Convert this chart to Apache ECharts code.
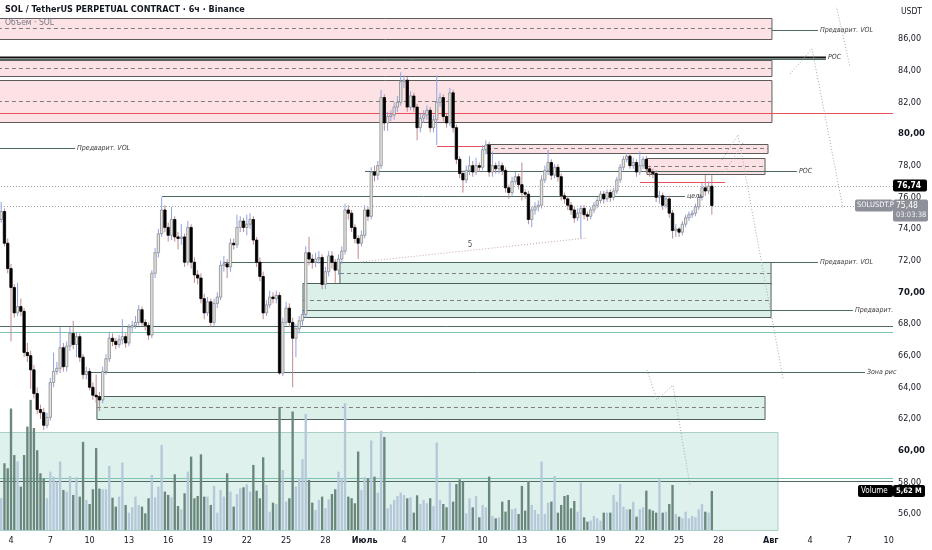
<!DOCTYPE html>
<html><head><meta charset="utf-8">
<script src="https://cdn.jsdelivr.net/npm/echarts@6/dist/echarts.min.js"></script>
<style>html,body{margin:0;padding:0;background:#fff}#c{width:932px;height:550px}</style>
</head><body><div id="c"></div>
<script>
// ---- time: days since 4 June; candles are 6h ----
const firstCandleDay = -0.75;
const candleStepDays = 0.25;
const xTickDays = [0,3,6,9,12,15,18,21,24,27,30,33,36,39,42,45,48,51,54,58,61,64,67];
const xTickLabels = ['4','7','10','13','16','19','22','25','28','Июль','4','7','10','13','16','19','22','25','28','Авг','4','7','10'];
const priceTicks = [56,58,60,62,64,66,68,70,72,74,76,78,80,82,84,86];

// [open, close, low, high]
const candles = [
[74.6,75.1,74.4,75.7],[75.1,73.1,72.9,75.3],[73.1,71.5,71.2,73.4],[71.5,70.3,66.9,71.8],[70.3,68.7,68.4,70.5],
[68.7,69.1,68.5,70.6],[69.1,68.8,68.5,69.6],[68.8,66.2,65.9,69.0],[66.2,66.0,65.6,66.8],[66.0,65.1,63.9,66.3],
[65.1,63.6,63.3,65.4],[63.6,62.6,62.3,64.0],[62.6,62.4,62.0,62.9],[62.4,61.6,61.3,62.7],[61.6,62.1,61.4,62.4],
[62.1,64.3,61.9,64.6],[64.3,65.0,64.0,66.2],[65.0,65.2,64.8,65.6],[65.2,66.5,64.9,67.8],[66.5,65.3,65.0,66.8],
[65.3,66.6,65.0,66.9],[66.6,67.4,66.3,67.8],[67.4,66.7,66.4,68.2],[66.7,67.2,65.9,67.5],[67.2,65.9,65.6,67.4],
[65.9,64.8,64.5,66.1],[64.8,65.0,64.5,65.3],[65.0,64.0,63.8,65.2],[64.0,63.5,63.2,64.3],[63.5,63.4,63.0,64.8],
[63.4,63.2,62.5,63.7],[63.2,65.0,63.0,65.3],[65.0,65.8,64.8,66.1],[65.8,67.1,65.6,67.5],[67.1,66.9,66.6,67.4],
[66.9,66.7,66.4,67.1],[66.7,67.0,66.5,67.3],[67.0,67.2,66.7,68.3],[67.2,66.8,66.5,67.4],[66.8,67.8,66.6,68.0],
[67.8,67.9,67.5,68.2],[67.9,68.1,67.7,68.5],[68.1,68.9,67.9,69.2],[68.9,68.1,67.9,69.1],[68.1,67.9,67.6,68.3],
[67.9,67.3,67.0,68.1],[67.3,71.2,67.1,71.4],[71.2,72.5,70.9,72.8],[72.5,73.7,72.2,74.0],[73.7,75.2,73.5,76.0],
[75.2,74.1,73.8,75.5],[74.1,73.6,73.2,74.4],[73.6,74.6,73.3,75.4],[74.6,73.5,73.2,74.8],[73.5,73.4,72.7,73.8],
[73.4,73.5,73.0,74.3],[73.5,71.9,71.6,73.7],[71.9,74.1,71.7,74.5],[74.1,71.9,71.5,74.3],[71.9,71.1,70.6,72.2],
[71.1,70.9,70.5,71.4],[70.9,69.6,69.3,71.2],[69.6,68.7,68.3,69.9],[68.7,69.4,68.5,69.7],[69.4,68.1,67.8,69.6],
[68.1,69.3,67.9,69.6],[69.3,69.7,69.0,70.0],[69.7,71.7,69.5,72.0],[71.7,71.8,71.3,72.3],[71.8,71.6,70.9,72.1],
[71.6,73.1,71.3,73.4],[73.1,73.0,72.7,73.4],[73.0,74.1,72.8,74.9],[74.1,74.5,73.8,74.8],[74.5,74.1,73.8,74.7],
[74.1,74.3,73.6,74.9],[74.3,74.6,74.0,75.0],[74.6,73.3,73.0,74.8],[73.3,71.9,71.6,73.5],[71.9,71.0,70.7,72.2],
[71.0,68.7,68.3,71.3],[68.7,69.2,68.5,69.5],[69.2,69.7,69.0,70.1],[69.7,69.6,69.3,70.0],[69.6,69.8,69.3,70.1],
[69.8,64.9,64.8,70.0],[64.9,68.1,64.7,68.4],[68.1,69.0,67.9,69.4],[69.0,68.1,67.8,69.3],[68.1,67.1,64.0,68.4],
[67.1,67.7,65.9,68.0],[67.7,68.2,67.4,68.5],[68.2,68.6,67.9,68.9],[68.6,72.5,68.4,72.9],[72.5,72.1,71.7,73.5],
[72.1,71.9,71.5,72.4],[71.9,72.1,71.6,72.5],[72.1,72.2,71.8,72.6],[72.2,70.5,70.2,72.4],[70.5,71.3,70.2,71.6],
[71.3,72.3,71.0,72.6],[72.3,71.9,71.5,72.6],[71.9,71.4,70.6,72.1],[71.4,72.1,71.1,72.4],[72.1,72.6,71.8,72.9],
[72.6,75.2,72.4,75.6],[75.2,75.0,74.6,75.5],[75.0,74.1,73.8,75.2],[74.1,73.4,73.1,74.3],[73.4,73.1,72.1,73.6],
[73.1,73.6,72.9,73.9],[73.6,75.2,73.4,75.5],[75.2,74.8,74.5,75.4],[74.8,77.6,74.6,77.9],[77.6,77.4,77.0,78.0],
[77.4,78.0,77.1,78.3],[78.0,82.3,77.8,82.8],[82.3,80.7,80.2,82.5],[80.7,81.1,80.2,81.4],[81.1,81.2,80.8,81.5],
[81.2,81.7,80.9,82.0],[81.7,82.0,81.4,82.4],[82.0,83.3,81.8,83.9],[83.3,83.4,82.9,83.7],[83.4,81.7,81.4,83.6],
[81.7,82.4,81.5,82.7],[82.4,81.7,81.4,82.6],[81.7,80.4,79.6,81.9],[80.4,81.0,80.1,81.3],[81.0,81.2,80.7,81.5],
[81.2,81.5,80.9,81.8],[81.5,80.4,80.1,81.7],[80.4,80.9,80.1,81.2],[80.9,82.0,79.3,83.7],[82.0,82.3,81.7,82.6],
[82.3,81.1,80.8,82.5],[81.1,80.7,80.4,81.3],[80.7,82.6,80.5,82.9],[82.6,80.4,80.1,82.8],[80.4,78.4,78.1,80.6],
[78.4,77.5,77.2,78.6],[77.5,77.1,76.3,77.7],[77.1,77.7,76.9,78.0],[77.7,78.0,77.4,78.6],[78.0,77.6,77.3,78.3],
[77.6,78.0,77.4,78.5],[78.0,77.9,77.6,78.2],[77.9,79.0,77.7,79.3],[79.0,79.3,78.7,79.6],[79.3,77.6,77.3,79.5],
[77.6,78.0,77.3,78.9],[78.0,77.8,77.5,78.2],[77.8,78.0,77.5,78.3],[78.0,77.7,77.4,78.2],[77.7,76.6,76.3,77.9],
[76.6,76.3,75.9,76.8],[76.3,77.0,76.1,77.3],[77.0,77.3,76.8,77.6],[77.3,76.8,76.5,77.5],[76.8,76.3,75.8,78.2],
[76.3,76.2,75.9,76.5],[76.2,74.6,74.3,76.4],[74.6,75.2,74.1,75.4],[75.2,75.4,74.9,75.7],[75.4,75.5,75.1,75.8],
[75.5,77.1,75.3,77.4],[77.1,77.7,76.9,78.0],[77.7,78.2,77.4,79.0],[78.2,77.4,77.1,78.4],[77.4,77.9,77.2,78.1],
[77.9,77.3,77.0,78.1],[77.3,76.1,75.8,77.5],[76.1,75.9,75.6,76.3],[75.9,75.5,75.2,76.1],[75.5,75.2,74.9,75.7],
[75.2,74.7,74.4,75.4],[74.7,75.0,74.5,75.3],[75.0,75.3,73.4,75.5],[75.3,74.9,74.6,75.5],[74.9,74.8,74.5,75.1],
[74.8,75.2,74.6,75.4],[75.2,75.5,75.0,75.7],[75.5,75.8,75.3,76.0],[75.8,76.2,75.6,76.4],[76.2,75.9,75.6,76.4],
[75.9,76.3,75.7,76.5],[76.3,76.0,75.7,76.5],[76.0,76.4,75.8,76.6],[76.4,77.1,76.2,77.3],[77.1,77.9,76.9,78.1],
[77.9,78.4,77.7,78.6],[78.4,78.6,78.2,78.8],[78.6,78.0,77.8,78.8],[78.0,78.2,77.8,78.5],[78.2,77.6,77.3,78.4],
[77.6,78.0,77.4,78.9],[78.0,78.4,77.8,78.6],[78.4,77.8,77.5,78.6],[77.8,77.6,77.3,78.0],[77.6,77.5,77.2,77.8],
[77.5,76.0,75.7,77.7],[76.0,76.1,75.6,76.4],[76.1,75.5,75.2,76.3],[75.5,75.9,75.3,76.1],[75.9,75.0,74.7,76.1],
[75.0,73.9,73.4,75.2],[73.9,74.0,73.5,74.3],[74.0,73.8,73.5,74.1],[73.8,74.3,73.6,74.5],[74.3,74.7,74.1,74.9],
[74.7,74.9,74.5,75.1],[74.9,75.0,74.7,75.2],[75.0,75.4,74.8,75.6],[75.4,76.0,75.2,76.2],[76.0,76.6,75.8,76.9],
[76.6,76.4,76.1,77.4],[76.4,76.7,76.2,77.0],[76.7,75.48,74.9,77.4]
];

// volume, millions SOL
const volumes = [
4.57,9.62,8.89,17.5,10.8,9.86,6.25,10.8,14.9,18.75,14.7,11.5,8.17,7.45,
4.57,8.41,7.69,6.97,9.86,5.77,5.53,7.79,5.05,7.6,4.81,12.7,4.33,3.75,
5.87,11.8,5.96,5.87,5.87,9.23,4.66,3.37,4.81,9.71,3.61,2.5,3.27,4.81,
3.61,3.37,2.4,4.57,7.93,4.71,6.25,12.26,5.53,5.05,4.71,8.03,3.46,2.98,
5.29,8.41,10.58,4.57,4.9,10.9,4.81,4.81,3.61,6.35,2.5,5.77,4.81,8.17,
5.53,3.37,5.19,6.01,6.15,6.59,5.53,9.38,5.67,4.57,10.48,6.49,2.64,3.94,
3.75,17.7,8.65,4.09,4.57,17.07,6.25,7.45,10.19,16.73,7.21,3.94,2.88,4.33,
4.81,3.13,4.42,5.19,5.87,8.41,7.45,18.27,4.81,4.57,3.85,11.3,5.77,7.6,
7.45,12.9,7.69,5.38,14.3,13.4,3.13,3.7,4.33,4.9,5.38,5.05,4.57,4.71,
2.5,5.0,3.75,4.33,3.85,4.57,3.46,12.6,4.33,3.75,3.27,6.83,4.09,6.63,
7.31,6.97,2.4,4.57,3.27,4.9,1.83,3.61,3.27,7.69,2.02,1.68,1.83,4.09,
2.64,4.33,2.98,3.13,2.31,6.35,2.79,7.07,3.61,2.88,2.31,9.86,2.31,3.94,
4.09,7.79,2.5,3.61,4.9,5.05,3.13,4.18,2.64,6.83,1.83,1.2,1.35,2.02,
1.68,1.35,2.5,2.5,2.5,5.05,4.09,6.63,3.37,2.98,2.98,4.09,1.92,2.98,
3.27,5.67,2.98,2.79,2.5,7.31,2.5,2.64,3.75,6.49,2.31,1.92,1.68,2.64,
1.68,2.02,1.83,2.98,3.75,2.64,2.5,5.62
];

// zones: [dayFrom, dayTo, priceTop, priceBottom]
const pinkZones = [
[-1,58.09,87.33,86.0],[-1,58.09,84.67,83.66],[-1,58.09,83.41,80.76],
[36.34,57.79,79.37,78.80],[48.55,57.56,78.48,77.47]
];
const greenZones = [[25.11,58.02,71.91,70.52],[22.29,58.02,70.59,68.44],[6.56,57.56,63.45,62.0]];
const volumeZone = [[-1,58.55,61.17,54.98]];
// horizontal lines: [dayFrom, dayTo, price, kind, label]
const hLines = [
[58.09,61.60,86.57,'dark','Предварит. VOL'],
[-1,62.21,84.86,'black','POC'],
[-1,62.21,84.72,'dark',''],
[-1,67.5,81.33,'red',''],
[-1,4.89,79.11,'dark','Предварит. VOL'],
[32.52,36.34,79.24,'red',''],
[27.02,60.0,77.66,'dark','POC'],
[48.02,54.50,76.97,'red',''],
[11.53,51.45,76.08,'dark','цель'],
[16.18,61.60,71.91,'dark','Предварит. VOL'],
[22.29,64.27,68.88,'dark','Предварит.'],
[-1,67.5,67.87,'dark',''],
[-1,67.5,67.49,'teal',''],
[6.03,65.19,64.96,'dark','Зона рис'],
[-1,67.5,58.27,'teal',''],
[-1,67.5,58.08,'dark','']
];
const priceLines = [[-1,67.5,76.74],[-1,67.5,75.48]];
const dottedPaths = [
[[54.27,78.36],[55.50,79.94],[58.93,64.58]],
[[54.5,77.6],[55.88,79.43]],
[[59.47,83.79],[61.15,85.37],[63.51,75.32]],
[[62.9,88.46],[64.05,84.23]],
[[48.55,65.09],[49.31,63.20],[50.53,64.14],[51.83,57.83]]
];
const trendPath = [[26.64,71.91],[43.97,73.43]];
const trendLabel = [35.04,72.99,'5'];
const markPrice = 76.74, lastPrice = 75.48, countdown = '03:03:38', lastVolume = 5.62;

const X_MIN = -0.84, X_MAX = 67.33;
const F = '"DejaVu Sans Condensed","DejaVu Sans",sans-serif';
const fmt = v => v.toFixed(2).replace('.', ',');

const candleRows = candles.map((c,i)=>[firstCandleDay+i*candleStepDays, c[0], c[1], c[2], c[3]]);
const volumeRows = volumes.map((v,i)=>[firstCandleDay+i*candleStepDays, v, candles[i][1]>=candles[i][0]?1:0]);

function zoneSeries(rows, fill, stroke){
  return {type:'custom', xAxisIndex:0, yAxisIndex:0, z:1, silent:true, clip:true,
    data: rows,
    renderItem:(p,api)=>{
      const a = api.coord([api.value(0), api.value(2)]);
      const b = api.coord([api.value(1), api.value(3)]);
      const mid = Math.round((a[1]+b[1])/2)+0.5;
      return {type:'group', children:[
        {type:'rect', shape:{x:a[0], y:Math.round(a[1])+0.5, width:b[0]-a[0], height:Math.round(b[1]-a[1])}, style:{fill:fill, stroke:stroke, lineWidth:1}},
        {type:'line', shape:{x1:a[0], y1:mid, x2:b[0], y2:mid}, style:{stroke:'#7d7d7d', lineDash:[4,3], lineWidth:1}}
      ]};
    }};
}
const lineStyles = {dark:{c:'#4d6a62',w:1}, black:{c:'#111',w:2}, red:{c:'#e8505c',w:1.2}, teal:{c:'#7cc3b3',w:1.2}};
const labelRows = hLines.filter(r=>r[4]);

const series = [
  {type:'custom', xAxisIndex:0, yAxisIndex:0, z:0, silent:true, clip:true, data:volumeZone,
   renderItem:(p,api)=>{
     const a = api.coord([api.value(0), api.value(2)]);
     const b = api.coord([api.value(1), api.value(3)]);
     return {type:'rect', shape:{x:a[0], y:Math.round(a[1])+0.5, width:b[0]-a[0], height:b[1]-a[1]}, style:{fill:'#dff1ec', stroke:'#a9cfc6', lineWidth:1}};
   }},
  zoneSeries(pinkZones, '#fde2e5', '#5c5c5c'),
  zoneSeries(greenZones, '#dcf0ea', '#4f5f5a'),
  {type:'custom', xAxisIndex:0, yAxisIndex:0, z:1, silent:true, clip:true, data:hLines.map(r=>[r[0],r[1],r[2]]),
   renderItem:(p,api)=>{
     const s = lineStyles[hLines[p.dataIndex][3]];
     const a = api.coord([api.value(0), api.value(2)]);
     const b = api.coord([api.value(1), api.value(2)]);
     const y = Math.round(a[1])+0.5;
     return {type:'line', shape:{x1:a[0], y1:y, x2:b[0], y2:y}, style:{stroke:s.c, lineWidth:s.w}};
   }},
  {type:'custom', xAxisIndex:0, yAxisIndex:0, z:4, silent:true, clip:false, data:labelRows.map(r=>[r[1],r[2]]),
   renderItem:(p,api)=>{
     const b = api.coord([api.value(0), api.value(1)]);
     return {type:'text', style:{x:b[0]+2, y:Math.round(b[1])+0.5, text:labelRows[p.dataIndex][4], fill:'#3a3a3a', font:'italic 7px '+F, verticalAlign:'middle'}};
   }},
  {type:'custom', xAxisIndex:0, yAxisIndex:0, z:1, silent:true, clip:true, data:priceLines,
   renderItem:(p,api)=>{
     const a = api.coord([api.value(0), api.value(2)]);
     const b = api.coord([api.value(1), api.value(2)]);
     const y = Math.round(a[1])+0.5;
     return {type:'line', shape:{x1:a[0], y1:y, x2:b[0], y2:y}, style:{stroke:'#9a9a9a', lineWidth:1, lineDash:[1,2]}};
   }},
  ...dottedPaths.map(path=>({type:'line', xAxisIndex:0, yAxisIndex:0, z:1, silent:true, symbol:'none',
     data:path, lineStyle:{color:'#a8a8a8', width:1, type:[1,2]}})),
  {type:'line', xAxisIndex:0, yAxisIndex:0, z:1, silent:true, symbol:'none', data:trendPath, lineStyle:{color:'#c9a6a6', width:1, type:[1,2]}},
  {type:'custom', xAxisIndex:1, yAxisIndex:1, z:2, silent:true, clip:true, data:volumeRows,
   renderItem:(p,api)=>{
     const t = api.value(0);
     const a = api.coord([t, 0]);
     const b = api.coord([t, api.value(1)]);
     const w = api.size([candleStepDays,0])[0]*0.72;
     return {type:'rect', shape:{x:a[0]-w/2, y:b[1], width:w, height:a[1]-b[1]},
       style:{fill: api.value(2) ? '#b5c8da' : '#6a877d'}};
   }},
  {type:'custom', xAxisIndex:0, yAxisIndex:0, z:3, silent:true, clip:true, data:candleRows,
   renderItem:(p,api)=>{
     const t=api.value(0), o=api.value(1), c=api.value(2), l=api.value(3), h=api.value(4);
     const po=api.coord([t,o]), pc=api.coord([t,c]), pl=api.coord([t,l]), ph=api.coord([t,h]);
     const w = api.size([candleStepDays,0])[0]*0.72;
     const up = c>=o;
     const top = Math.min(po[1],pc[1]), bot = Math.max(po[1],pc[1]);
     const x = po[0];
     return {type:'group', children:[
       {type:'line', shape:{x1:x, y1:ph[1], x2:x, y2:pl[1]}, style:{stroke: up?'#8ea3e6':'#c08a8a', lineWidth:1}},
       {type:'rect', shape:{x:x-w/2, y:top, width:w, height:Math.max(bot-top,1)},
        style:{fill: up?'#e6e6e6':'#000', stroke: up?'#8a8a8a':'#000', lineWidth:0.8}}
     ]};
   }}
];

const option = {
  animation:false,
  backgroundColor:'#ffffff',
  grid:[{left:0,right:39,top:7.34,bottom:4.4},{left:0,right:39,top:40,bottom:20}],
  xAxis:[
    {type:'value', gridIndex:0, min:X_MIN, max:X_MAX, show:false},
    {type:'value', gridIndex:1, min:X_MIN, max:X_MAX, axisLine:{show:false}, axisTick:{show:false}, splitLine:{show:false},
     axisLabel:{customValues:xTickDays, margin:6, color:'#131722', fontSize:9, fontFamily:F,
       formatter:(v)=>{const i=xTickDays.indexOf(v); if(i<0) return ''; const s=xTickLabels[i]; return /\d/.test(s)? s : '{b|'+s+'}';},
       rich:{b:{fontWeight:'bold', fontSize:9, color:'#131722', fontFamily:F}}}}
  ],
  yAxis:[
    {type:'value', gridIndex:0, position:'right', min:54, max:88, interval:2, axisLine:{show:false}, axisTick:{show:false}, splitLine:{show:false},
     axisLabel:{margin:5, color:'#131722', fontSize:9, fontFamily:F,
       customValues: priceTicks,
       formatter:(v)=> priceTicks.indexOf(v)<0 ? '' : (v%10===0 ? '{b|'+fmt(v)+'}' : fmt(v)),
       rich:{b:{fontWeight:'bold', fontSize:9.5, color:'#131722', fontFamily:F}}}},
    {type:'value', gridIndex:1, min:0, max:70.6, show:false}
  ],
  series: series
};

const chart = echarts.init(document.getElementById('c'));
chart.setOption(option);

const pxMark = chart.convertToPixel({xAxisIndex:0, yAxisIndex:0}, [X_MAX, markPrice]);
const pxLast = chart.convertToPixel({xAxisIndex:0, yAxisIndex:0}, [X_MAX, lastPrice]);
const pxVol = chart.convertToPixel({xAxisIndex:1, yAxisIndex:1}, [X_MAX, lastVolume]);
const pxTrend = chart.convertToPixel({xAxisIndex:0, yAxisIndex:0}, [trendLabel[0], trendLabel[1]]);
const ax = pxMark[0];
chart.setOption({graphic:[
  {type:'text', left:5, top:5, z:10, style:{text:'SOL / TetherUS PERPETUAL CONTRACT · 6ч · Binance', fill:'#131722', font:'600 9px '+F}},
  {type:'text', left:5, top:18, z:10, style:{text:'Объём · SOL', fill:'#787b86', font:'8.5px '+F}},
  {type:'text', x:ax+8, y:7, z:10, style:{text:'USDT', fill:'#131722', font:'8.5px '+F}},
  {type:'text', x:pxTrend[0], y:pxTrend[1], z:10, style:{text:trendLabel[2], fill:'#555', font:'8px '+F, align:'center', verticalAlign:'middle'}},
  {type:'rect', z:10, shape:{x:ax, y:pxMark[1]-6, width:34, height:12, r:2}, style:{fill:'#000'}},
  {type:'text', z:11, x:ax+4, y:pxMark[1], style:{text:fmt(markPrice), fill:'#fff', font:'bold 8.5px '+F, verticalAlign:'middle'}},
  {type:'rect', z:10, shape:{x:ax-38, y:pxLast[1]-6, width:38, height:12, r:2}, style:{fill:'#8d9099'}},
  {type:'text', z:11, x:ax-36, y:pxLast[1], style:{text:'SOLUSDT.P', fill:'#fff', font:'7.5px '+F, verticalAlign:'middle'}},
  {type:'rect', z:10, shape:{x:ax, y:pxLast[1]-6, width:35, height:22, r:2}, style:{fill:'#8d9099'}},
  {type:'text', z:11, x:ax+3, y:pxLast[1], style:{text:fmt(lastPrice), fill:'#fff', font:'8.5px '+F, verticalAlign:'middle'}},
  {type:'text', z:11, x:ax+3, y:pxLast[1]+10, style:{text:countdown, fill:'#f0f0f0', font:'7.5px '+F, verticalAlign:'middle'}},
  {type:'rect', z:10, shape:{x:ax-35, y:pxVol[1]-6, width:35, height:12, r:2}, style:{fill:'#000'}},
  {type:'text', z:11, x:ax-32, y:pxVol[1], style:{text:'Volume', fill:'#fff', font:'8px '+F, verticalAlign:'middle'}},
  {type:'rect', z:10, shape:{x:ax, y:pxVol[1]-6, width:32, height:12, r:2}, style:{fill:'#000'}},
  {type:'text', z:11, x:ax+3, y:pxVol[1], style:{text:fmt(lastVolume)+' M', fill:'#fff', font:'bold 7.5px '+F, verticalAlign:'middle'}}
]});
</script>
</body></html>
